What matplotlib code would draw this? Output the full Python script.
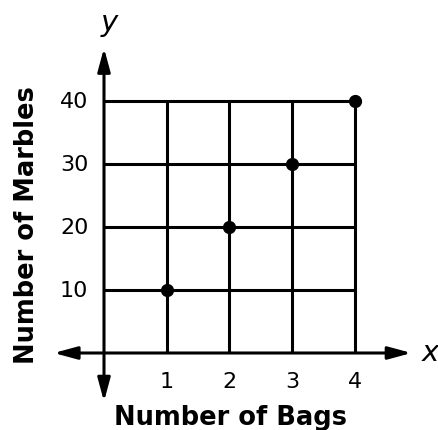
import matplotlib
matplotlib.use("Agg")
import matplotlib.pyplot as plt
from matplotlib.patches import FancyArrowPatch

bags = [1, 2, 3, 4]
marbles = [10, 20, 30, 40]
x_ticks = [1, 2, 3, 4]
y_ticks = [10, 20, 30, 40]

fig = plt.figure(figsize=(4.39, 4.31), dpi=100)
ax = fig.add_axes([0, 0, 1, 1])
ax.set_xlim(-104 / 62.75, (439 - 104) / 62.75)
ax.set_ylim((354 - 431) / 6.3, 354 / 6.3)
ax.axis("off")

lw = 2.2
# grid
for xv in x_ticks:
    ax.plot([xv, xv], [0, max(y_ticks)], color="black", lw=lw, solid_capstyle="butt", zorder=2)
for yv in y_ticks:
    ax.plot([0, max(x_ticks)], [yv, yv], color="black", lw=lw, solid_capstyle="butt", zorder=2)

# axes with arrows
arrow_kw = dict(arrowstyle="<|-|>,head_length=14,head_width=3.8", mutation_scale=1,
                color="black", lw=lw, shrinkA=0, shrinkB=0, zorder=3)
ax.add_patch(FancyArrowPatch((-0.8, 0), (4.9, 0), **arrow_kw))
ax.add_patch(FancyArrowPatch((0, -7.7), (0, 48.4), **arrow_kw))

# points
ax.plot(bags, marbles, "o", color="black", ms=8.5, zorder=4)

# tick labels
for xv in x_ticks:
    ax.text(xv, -4.4, str(xv), ha="center", va="center", fontsize=16)
for yv in y_ticks:
    ax.text(-0.25, yv, str(yv), ha="right", va="center", fontsize=16)

ax.text(0.08, 52.5, "y", ha="center", va="center", fontsize=21, style="italic")
ax.text(5.2, 0.2, "x", ha="center", va="center", fontsize=21, style="italic")

ax.text(2.02, -10.2, "Number of Bags", ha="center", va="center", fontsize=18.5, fontweight="bold")
ax.text(-1.23, 20.4, "Number of Marbles", ha="center", va="center", fontsize=18.5,
        fontweight="bold", rotation=90)

fig.savefig("out.png", dpi=100)
